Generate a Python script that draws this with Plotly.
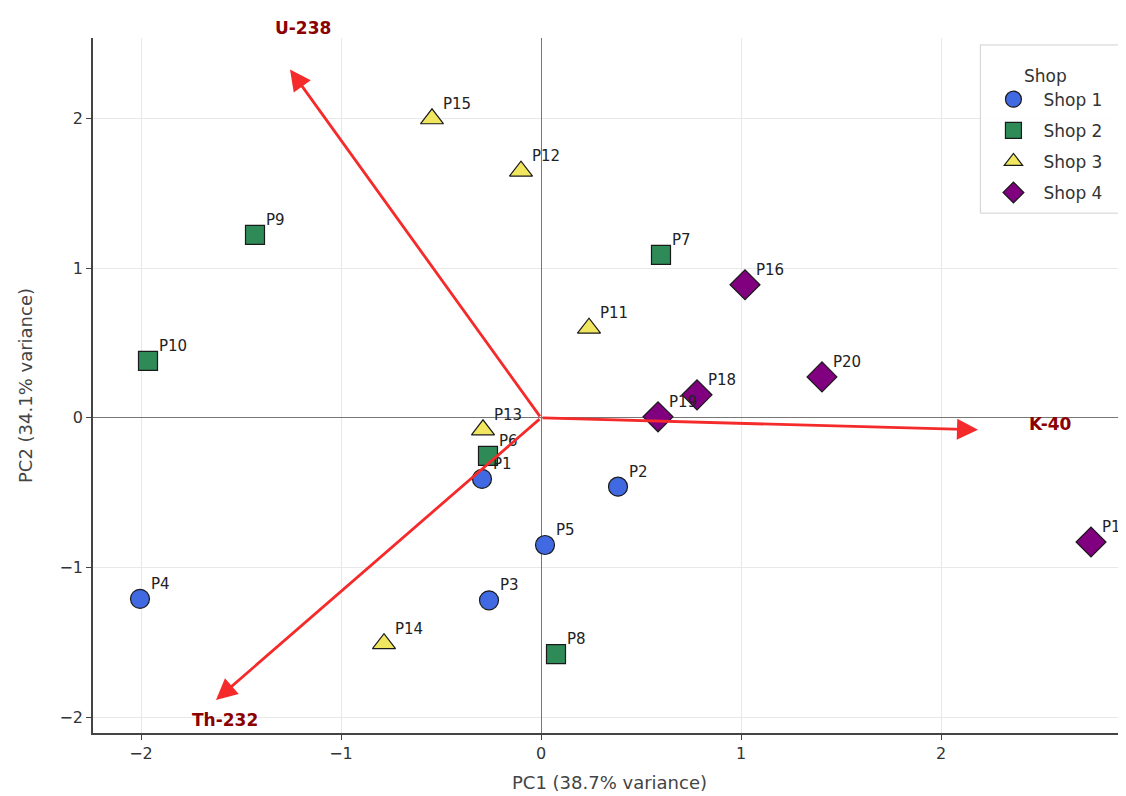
import plotly.graph_objects as go

shops = ["Shop 1", "Shop 2", "Shop 3", "Shop 4"]
colors = ["#4169E1", "#2E8B57", "#F0E660", "#800080"]
symbols = ["circle", "square", "triangle-up", "diamond"]
sizes = [19, 19, 20, 23]

labels = {
    "Shop 1": ["P1", "P2", "P3", "P4", "P5"],
    "Shop 2": ["P6", "P7", "P8", "P9", "P10"],
    "Shop 3": ["P11", "P12", "P13", "P14", "P15"],
    "Shop 4": ["P16", "P17", "P18", "P19", "P20"],
}
pc1 = {
    "Shop 1": [-0.295, 0.385, -0.26, -2.005, 0.02],
    "Shop 2": [-0.265, 0.60, 0.075, -1.43, -1.965],
    "Shop 3": [0.24, -0.10, -0.29, -0.785, -0.545],
    "Shop 4": [1.02, 2.75, 0.78, 0.585, 1.405],
}
pc2 = {
    "Shop 1": [-0.408, -0.46, -1.22, -1.21, -0.85],
    "Shop 2": [-0.254, 1.09, -1.58, 1.224, 0.381],
    "Shop 3": [0.60, 1.65, -0.08, -1.51, 2.0],
    "Shop 4": [0.89, -0.83, 0.154, 0.007, 0.274],
}

loading_names = ["U-238", "K-40", "Th-232"]
loading_x = [-1.255, 2.185, -1.625]
loading_y = [2.33, -0.08, -1.886]
loading_label_x = [-1.19, 2.545, -1.58]
loading_label_y = [2.61, -0.04, -2.02]

Y_RANGE = [-2.107, 2.54]

fig = go.Figure()

for s, c, sym, sz in zip(shops, colors, symbols, sizes):
    fig.add_trace(go.Scatter(
        x=pc1[s], y=pc2[s], mode="markers", name=s, legendgroup=s,
        marker=dict(color=c, symbol=sym, size=sz,
                    line=dict(color="#1a1a1a", width=1.2)),
    ))

annotations = []
for s in shops:
    for lx, ly, lt in zip(pc1[s], pc2[s], labels[s]):
        annotations.append(dict(
            x=lx, y=ly, text=lt, showarrow=False, xanchor="left", yanchor="bottom",
            xshift=9, yshift=4, font=dict(size=15, color="#222222",
                                           family="DejaVu Sans"),
        ))

for name, vx, vy, tx, ty in zip(loading_names, loading_x, loading_y,
                                 loading_label_x, loading_label_y):
    annotations.append(dict(
        x=vx, y=vy, ax=0, ay=0, axref="x", ayref="y", xref="x", yref="y",
        text="", showarrow=True, arrowhead=2, arrowsize=1.5, arrowwidth=2.8,
        arrowcolor="#F52A2A",
    ))
    yp = (ty - Y_RANGE[0]) / (Y_RANGE[1] - Y_RANGE[0])
    annotations.append(dict(
        x=tx, y=yp, xref="x", yref="paper", text="<b>" + name + "</b>",
        showarrow=False,
        font=dict(size=17, color="#8B0000", family="DejaVu Sans"),
        xanchor="center", yanchor="middle",
    ))

# legend frame (paper coords)
fig.add_shape(type="rect", xref="paper", yref="paper",
              x0=0.859, x1=1.02, y0=0.748, y1=0.99,
              line=dict(color="#d0d0d0", width=1), fillcolor="rgba(255,255,255,0.9)",
              layer="above")

fig.update_layout(
    width=1118, height=788,
    margin=dict(l=85, r=0, t=30, b=63),
    plot_bgcolor="white", paper_bgcolor="white",
    font=dict(family="DejaVu Sans", color="#333333"),
    annotations=annotations,
    legend=dict(
        title=dict(text="Shop", side="top center", font=dict(size=17, color="#333333")),
        x=0.862, y=0.969, xanchor="left", yanchor="top",
        bgcolor="rgba(0,0,0,0)", borderwidth=0,
        font=dict(size=17, color="#333333"), itemsizing="trace",
        itemwidth=50, tracegroupgap=6,
    ),
    xaxis=dict(
        range=[-2.24, 2.925], tickvals=[-2, -1, 0, 1, 2],
        ticktext=["\u22122", "\u22121", "0", "1", "2"],
        showgrid=True, gridcolor="#e8e8e8", gridwidth=1,
        zeroline=True, zerolinecolor="#777777", zerolinewidth=1,
        showline=True, linecolor="#444444", linewidth=1.5, mirror=False,
        ticks="outside", ticklen=5, tickcolor="#444444",
        tickfont=dict(size=16, color="#333333"), automargin=False,
        title=dict(text="PC1 (38.7% variance)", font=dict(size=18, color="#444444"),
                   standoff=14),
    ),
    yaxis=dict(
        range=Y_RANGE, tickvals=[-2, -1, 0, 1, 2],
        ticktext=["\u22122", "\u22121", "0", "1", "2"],
        showgrid=True, gridcolor="#e8e8e8", gridwidth=1,
        zeroline=True, zerolinecolor="#777777", zerolinewidth=1,
        showline=True, linecolor="#444444", linewidth=1.5,
        ticks="outside", ticklen=5, tickcolor="#444444",
        tickfont=dict(size=16, color="#333333"), automargin=False,
        title=dict(text="PC2 (34.1% variance)", font=dict(size=18, color="#444444"),
                   standoff=22),
    ),
)

fig.write_html("out.html")
